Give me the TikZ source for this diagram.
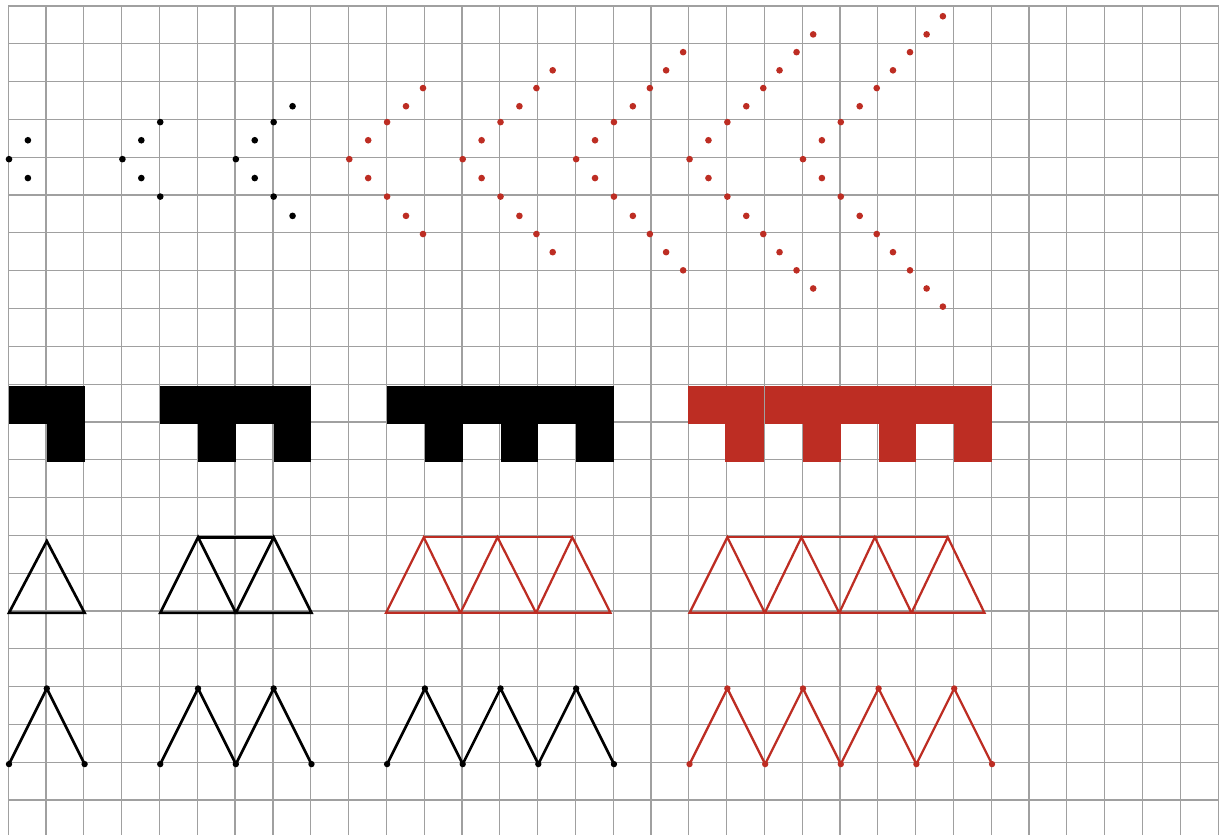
\documentclass[tikz,border=0pt]{standalone}
\usepackage{tikz}
\usetikzlibrary{calc}
\definecolor{patRed}{RGB}{189,45,35}
\definecolor{gridGray}{RGB}{160,160,160}

\begin{document}
\begin{tikzpicture}[x=1cm, y=1cm,
  gridline/.style={gridGray, line width=0.9pt, line cap=rect},
  stick/.style={line width=2pt, line join=miter},
  redstick/.style={patRed, line width=1.7pt, line join=miter}]
  \useasboundingbox (-0.238,-1.85) rectangle (32.03,20.21);

  % Squared paper
  \foreach \i in {0,...,32}
    \draw[gridline] (\i-0.02,-1.95) -- (\i-0.02,20.05);
  \foreach \j in {-1,...,20}
    \draw[gridline] (-0.02,\j+0.05) -- (31.98,\j+0.05);

  % Dot arrow heads
  \foreach \n/\cx/\col in {1/0/black, 2/3/black, 3/6/black, 4/9/patRed,
                           5/12/patRed, 6/15/patRed, 7/18/patRed, 8/21/patRed} {
    \fill[\col] (\cx,16) circle (2.5pt);
    \foreach \dx/\up/\dn [count=\k] in {0.5/0.5/0.5, 1/0.98/0.99, 1.5/1.4/1.5,
        1.95/1.88/1.98, 2.38/2.35/2.46, 2.83/2.83/2.94, 3.27/3.3/3.42, 3.7/3.78/3.9} {
      \ifnum\k>\n\relax\else
        \fill[\col] (\cx+\dx,16+\up) circle (2.5pt);
        \fill[\col] (\cx+\dx,16-\dn) circle (2.5pt);
      \fi
    }
  }

  % Comb blocks
  \fill (0,9) rectangle (2,10);
  \fill (1,8) rectangle (2,9);
  \fill (4,9) rectangle (8,10);
  \foreach \x in {5,7} \fill (\x,8) rectangle +(1,1);
  \fill (10,9) rectangle (16,10);
  \foreach \x in {11,13,15} \fill (\x,8) rectangle +(1,1);
  \fill[patRed] (17.95,9) rectangle (19.96,10);
  \fill[patRed] (18.95,8) rectangle (19.96,9);
  \fill[patRed] (19.99,9) rectangle (26,10);
  \foreach \x in {21,23,25} \fill[patRed] (\x,8) rectangle +(1,1);

  % Triangle strips
  \draw[stick] (0,4) -- (1,5.9) -- (2,4) -- cycle;
  \draw[stick] (4,4) -- (5,6) -- (6,4) -- cycle;
  \draw[stick] (6,4) -- (7,6) -- (8,4) -- cycle;
  \draw[stick] (5,6) -- (7,6);
  \draw[redstick] (9.97,4) -- (10.97,6) -- (11.94,4) -- cycle;
  \draw[redstick] (11.94,4) -- (12.92,6) -- (13.94,4) -- cycle;
  \draw[redstick] (13.94,4) -- (14.9,6) -- (15.91,4) -- cycle;
  \draw[redstick] (10.97,6) -- (14.9,6);
  \draw[redstick] (18,4) -- (19,6) -- (19.99,4) -- cycle;
  \draw[redstick] (19.99,4) -- (20.96,6) -- (21.96,4) -- cycle;
  \draw[redstick] (21.96,4) -- (22.9,6) -- (23.87,4) -- cycle;
  \draw[redstick] (23.87,4) -- (24.83,6) -- (25.8,4) -- cycle;
  \draw[redstick] (19,6) -- (24.83,6);

  % Zigzags
  \draw[stick] (0,0) -- (1,2) -- (2,0);
  \draw[stick] (4,0) -- (5,2) -- (6,0) -- (7,2) -- (8,0);
  \draw[stick] (10,0) -- (11,2) -- (12,0) -- (13,2) -- (14,0) -- (15,2) -- (16,0);
  \draw[redstick] (18,0) -- (19,2) -- (20,0) -- (21,2) -- (22,0) -- (23,2)
    -- (24,0) -- (25,2) -- (26,0);
  \foreach \x [evaluate=\x as \zy using {2*mod(\x,2)}] in {0,1,2,4,5,...,8,10,11,...,16}
    \fill (\x,\zy) circle (2.4pt);
  \foreach \x [evaluate=\x as \zy using {2*mod(\x,2)}] in {18,19,...,26}
    \fill[patRed] (\x,\zy) circle (2.4pt);
\end{tikzpicture}
\end{document}
